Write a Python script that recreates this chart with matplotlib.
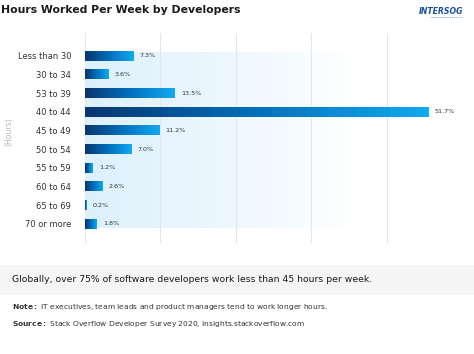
import numpy as np
import matplotlib.pyplot as plt
from matplotlib.colors import LinearSegmentedColormap
from matplotlib.patches import Rectangle

categories = ['Less than 30', '30 to 34', '53 to 39', '40 to 44', '45 to 49',
              '50 to 54', '55 to 59', '60 to 64', '65 to 69', '70 or more']
shares = [7.3, 3.6, 13.5, 51.7, 11.2, 7.0, 1.2, 2.6, 0.2, 1.8]
labels = ['7.3%', '3.6%', '13.5%', '51.7%', '11.2%', '7.0%', '1.2%', '2.6%', '0.2%', '1.8%']

plt.rcParams['font.family'] = ['DejaVu Sans']

fig = plt.figure(figsize=(4.74, 3.54), dpi=100)
fig.patch.set_facecolor('white')
ax = fig.add_axes([85 / 474, (354 - 243) / 354, 377 / 474, 210 / 354])

xmax = 56.7
grad = np.linspace(0, 1, 256).reshape(1, -1)

# light blue background band fading to the right
bg = LinearSegmentedColormap.from_list('bg', ['#dcf1fc', '#ecf7fe', '#ffffff'])
ax.imshow(grad, cmap=bg, aspect='auto', extent=(0, 41, 9.21, -0.21), zorder=0)

for g in np.linspace(0, xmax, 6):
    ax.axvline(g, color='#e4e6ea', lw=0.8, zorder=1)

bar_cmap = LinearSegmentedColormap.from_list('bar', ['#0a3670', '#0070bb', '#12aaf2'])
h = 0.5
for i, v in enumerate(shares):
    ax.imshow(grad, cmap=bar_cmap, aspect='auto',
              extent=(0, v, i + h / 2, i - h / 2), zorder=2)
    ax.text(v + 0.9, i, labels[i], va='center', ha='left', fontsize=4.6, color='#333333')

ax.set_xlim(0, xmax)
ax.set_ylim(10.02, -1.23)
ax.set_yticks(range(len(categories)))
ax.set_yticklabels(categories, fontsize=6.0, color='#333333')
ax.tick_params(axis='y', length=0, pad=10)
ax.set_xticks([])
for s in ax.spines.values():
    s.set_visible(False)
ax.set_ylabel('(Hours)', fontsize=5.6, color='#b8b8b8')
ax.yaxis.set_label_coords(-72 / 377, 0.53)

fig.text(1 / 474, 1 - 10 / 354, 'Hours Worked Per Week by Developers', fontsize=7.8,
         fontweight='bold', color='#1a1a1a', va='center', ha='left')
fig.text(463 / 474, 1 - 11 / 354, 'INTERSOG', fontsize=5.6, fontweight='bold', style='italic',
         color='#1b4f9c', va='center', ha='right')
fig.text(463 / 474, 1 - 17 / 354, 'FROM CONCEPT TO REALITY', fontsize=1.6,
         color='#1b4f9c', va='center', ha='right')

fig.patches.append(Rectangle((0, (354 - 295) / 354), 1, 30 / 354, transform=fig.transFigure,
                             facecolor='#f5f5f5', edgecolor='none', zorder=0))
fig.text(12 / 474, 1 - 280 / 354,
         'Globally, over 75% of software developers work less than 45 hours per week.',
         fontsize=6.7, color='#1a1a1a', va='center', ha='left')
fig.text(12 / 474, 1 - 307 / 354, r'$\bf{Note:}$ IT executives, team leads and product managers tend to work longer hours.',
         fontsize=5.4, color='#333333', va='center', ha='left')
fig.text(12 / 474, 1 - 324 / 354, r'$\bf{Source:}$ Stack Overflow Developer Survey 2020, insights.stackoverflow.com',
         fontsize=5.4, color='#333333', va='center', ha='left')

fig.savefig('out.png', dpi=100)
